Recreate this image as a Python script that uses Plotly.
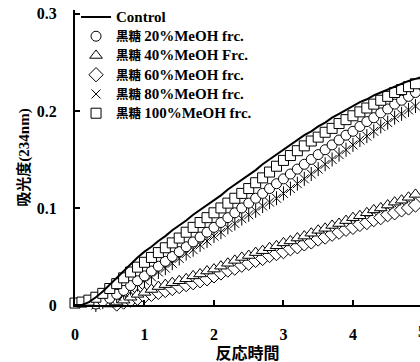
import plotly.graph_objects as go

# reaction time (min), sampled every 0.1 min
time_min = [round(i * 0.1, 1) for i in range(51)]

control = [0.000, 0.000, 0.003, 0.008, 0.014, 0.021, 0.028, 0.036, 0.043, 0.049,
           0.055, 0.060, 0.066, 0.071, 0.077, 0.082, 0.087, 0.093, 0.098, 0.103,
           0.108, 0.113, 0.119, 0.124, 0.129, 0.134, 0.139, 0.145, 0.150, 0.155,
           0.160, 0.165, 0.170, 0.175, 0.179, 0.184, 0.188, 0.193, 0.197, 0.201,
           0.205, 0.209, 0.212, 0.216, 0.219, 0.222, 0.225, 0.228, 0.231, 0.233,
           0.235]

meoh20 = [-0.002, -0.002, -0.001, 0.001, 0.004, 0.007, 0.011, 0.015, 0.020, 0.025,
          0.030, 0.035, 0.040, 0.045, 0.050, 0.055, 0.060, 0.065, 0.070, 0.075,
          0.080, 0.085, 0.090, 0.095, 0.100, 0.105, 0.110, 0.115, 0.120, 0.125,
          0.130, 0.135, 0.140, 0.145, 0.150, 0.155, 0.160, 0.165, 0.170, 0.175,
          0.179, 0.184, 0.189, 0.193, 0.198, 0.202, 0.207, 0.211, 0.215, 0.219,
          0.222]

meoh40 = [-0.004, -0.004, -0.003, -0.002, -0.001, 0.001, 0.003, 0.005, 0.008, 0.011,
          0.013, 0.016, 0.019, 0.021, 0.023, 0.025, 0.027, 0.030, 0.032, 0.035,
          0.037, 0.040, 0.043, 0.046, 0.049, 0.051, 0.054, 0.056, 0.059, 0.061,
          0.064, 0.066, 0.069, 0.071, 0.074, 0.077, 0.079, 0.082, 0.084, 0.087,
          0.090, 0.092, 0.095, 0.098, 0.100, 0.103, 0.106, 0.108, 0.111, 0.114,
          0.117]

meoh60 = [-0.004, -0.004, -0.004, -0.003, -0.002, -0.001, 0.001, 0.003, 0.005, 0.007,
          0.009, 0.011, 0.013, 0.015, 0.017, 0.019, 0.021, 0.023, 0.025, 0.027,
          0.030, 0.033, 0.036, 0.038, 0.041, 0.043, 0.046, 0.048, 0.051, 0.053,
          0.055, 0.058, 0.060, 0.063, 0.065, 0.068, 0.070, 0.073, 0.075, 0.078,
          0.080, 0.083, 0.085, 0.088, 0.090, 0.093, 0.095, 0.098, 0.100, 0.103,
          0.106]

meoh80 = [-0.003, -0.003, -0.002, 0.000, 0.003, 0.006, 0.009, 0.013, 0.017, 0.021,
          0.025, 0.029, 0.034, 0.038, 0.043, 0.048, 0.053, 0.057, 0.062, 0.066,
          0.071, 0.075, 0.080, 0.084, 0.089, 0.093, 0.097, 0.102, 0.106, 0.110,
          0.115, 0.120, 0.125, 0.130, 0.135, 0.140, 0.145, 0.150, 0.155, 0.160,
          0.165, 0.170, 0.174, 0.179, 0.184, 0.188, 0.193, 0.197, 0.201, 0.205,
          0.209]

meoh100 = [0.002, 0.003, 0.005, 0.008, 0.012, 0.017, 0.022, 0.028, 0.034, 0.039,
           0.044, 0.049, 0.054, 0.059, 0.064, 0.069, 0.075, 0.080, 0.085, 0.090,
           0.095, 0.100, 0.105, 0.110, 0.115, 0.120, 0.126, 0.131, 0.137, 0.143,
           0.149, 0.154, 0.159, 0.164, 0.169, 0.173, 0.178, 0.182, 0.187, 0.191,
           0.195, 0.199, 0.203, 0.207, 0.211, 0.215, 0.219, 0.222, 0.225, 0.228,
           0.231]

sample = "黒糖"
fractions = ["20%MeOH frc.", "40%MeOH Frc.", "60%MeOH frc.", "80%MeOH frc.",
             "100%MeOH frc."]
control_name = "Control"

x_ticks = [0, 1, 2, 3, 4, 5]
y_ticks = [0, 0.1, 0.2, 0.3]
y_tick_text = ["0", "0.1", "0.2", "0.3"]
x_max = 4.965

FONT = "Liberation Serif, 'Times New Roman', 'Noto Sans CJK JP', serif"
LATIN = "font-size:15px"


def legend_label(fraction=None):
    # Latin text is set larger than the kanji, as in the original layout
    if fraction is None:
        return f"<span style='{LATIN}'>{control_name}</span>"
    return f"{sample} <span style='{LATIN}'>{fraction}</span>"


fig = go.Figure()


def marker_trace(y, label, symbol, rank, size=10, show=True, filled=True):
    fig.add_trace(go.Scatter(
        x=time_min, y=y, name=label, mode="markers",
        marker=dict(symbol=symbol, size=size,
                    color="white" if filled else "black",
                    line=dict(color="black", width=1)),
        cliponaxis=False, legendrank=rank, showlegend=show,
        legendgroup=label,
    ))


marker_trace(meoh60, legend_label(fractions[2]), "diamond", 4, size=11)
marker_trace(meoh40, legend_label(fractions[1]), "triangle-up", 3, size=11)
# asterisk marker: an x with a vertical bar
marker_trace(meoh80, legend_label(fractions[3]), "x-thin-open", 5, size=9, filled=False)
marker_trace(meoh80, legend_label(fractions[3]), "line-ns-open", 5, size=10,
             show=False, filled=False)
marker_trace(meoh20, legend_label(fractions[0]), "circle", 2, size=10)
marker_trace(meoh100, legend_label(fractions[4]), "square", 6, size=10)

fig.add_trace(go.Scatter(
    x=time_min, y=control, name=legend_label(), mode="lines",
    line=dict(color="black", width=2), legendrank=1, cliponaxis=False,
))

fig.update_layout(
    width=420, height=362,
    margin=dict(l=75, r=0, t=10, b=57),
    paper_bgcolor="white", plot_bgcolor="white",
    font=dict(family=FONT, size=16, color="black", weight="bold"),
    showlegend=True,
    legend=dict(x=0.003, y=1.026, xanchor="left", yanchor="top",
                bgcolor="rgba(0,0,0,0)", borderwidth=0,
                font=dict(family=FONT, size=12.5, weight="bold"),
                tracegroupgap=0, itemwidth=30),
    xaxis=dict(
        range=[0, x_max], tickvals=x_ticks, ticks="inside", ticklen=5,
        tickwidth=1.5, tickcolor="black", showline=True, linecolor="black",
        linewidth=2, showgrid=False, zeroline=False, ticklabelstandoff=14,
        title=dict(text="反応時間", standoff=6,
                   font=dict(family=FONT, size=16, weight="bold")),
    ),
    yaxis=dict(
        range=[0, 0.304], tickvals=y_ticks, ticktext=y_tick_text,
        ticks="inside", ticklen=5, tickwidth=1.5, tickcolor="black",
        showline=True, linecolor="black", linewidth=2, showgrid=False,
        zeroline=False, ticklabelstandoff=13,
        title=dict(text="吸光度(234nm)", standoff=4,
                   font=dict(family=FONT, size=15, weight="bold")),
    ),
)

# the last x tick sits just past the right edge of the plotting area
fig.add_annotation(
    x=x_ticks[-1] / x_max, xref="paper", y=0, yref="paper",
    text=str(x_ticks[-1]), showarrow=False, xanchor="center", yanchor="top",
    yshift=-16, font=dict(family=FONT, size=16, weight="bold"),
)

fig.write_html("out.html")
